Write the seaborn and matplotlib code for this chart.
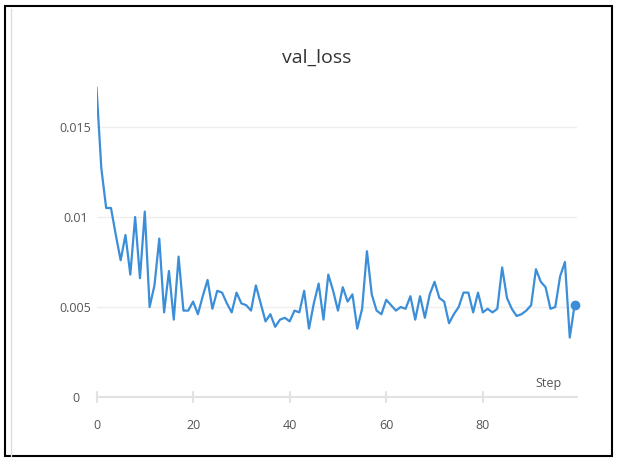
import pandas as pd
import matplotlib
matplotlib.use('Agg')
from matplotlib import pyplot as plt
from matplotlib.patches import Rectangle
import seaborn as sns

# values
val_loss = [
    0.0172, 0.0127, 0.0105, 0.0105, 0.0090, 0.0076, 0.0090, 0.0068, 0.0100, 0.0066,
    0.0103, 0.0050, 0.0062, 0.0088, 0.0047, 0.0070, 0.0043, 0.0078, 0.0048, 0.0048,
    0.0053, 0.0046, 0.0056, 0.0065, 0.0049, 0.0059, 0.0058, 0.0052, 0.0047, 0.0058,
    0.0052, 0.0051, 0.0048, 0.0062, 0.0052, 0.0042, 0.0046, 0.0039, 0.0043, 0.0044,
    0.0042, 0.0048, 0.0047, 0.0059, 0.0038, 0.0052, 0.0063, 0.0043, 0.0068, 0.0059,
    0.0048, 0.0061, 0.0053, 0.0057, 0.0038, 0.0049, 0.0081, 0.0057, 0.0048, 0.0046,
    0.0054, 0.0051, 0.0048, 0.0050, 0.0049, 0.0056, 0.0043, 0.0056, 0.0044, 0.0057,
    0.0064, 0.0055, 0.0053, 0.0041, 0.0046, 0.0050, 0.0058, 0.0058, 0.0047, 0.0058,
    0.0047, 0.0049, 0.0047, 0.0049, 0.0072, 0.0055, 0.0049, 0.0045, 0.0046, 0.0048,
    0.0051, 0.0071, 0.0064, 0.0061, 0.0049, 0.0050, 0.0067, 0.0075, 0.0033, 0.0051,
]
steps = list(range(len(val_loss)))
x_ticks = [0, 20, 40, 60, 80]
y_ticks = [0, 0.005, 0.01, 0.015]
y_labels = ['0', '0.005', '0.01', '0.015']

df = pd.DataFrame({'Step': steps, 'val_loss': val_loss})

sns.set_style('white')
plt.rcParams['font.family'] = ['Open Sans', 'DejaVu Sans']

W, H = 617, 459
fig = plt.figure(figsize=(W / 100, H / 100), dpi=100)
ax = fig.add_axes([96.5 / W, 1 - 397 / H, (577 - 96.5) / W, (397 - 82) / H])

blue = '#3b8ed8'
sns.lineplot(data=df, x='Step', y='val_loss', ax=ax, color=blue, linewidth=1.6)
ax.plot(steps[-1:], val_loss[-1:], 'o', color=blue, markersize=6, clip_on=False)

ax.set_xlim(0, 99.5)
ax.set_ylim(0, 0.0175)
for s in ax.spines.values():
    s.set_visible(False)

# horizontal grid
for y in y_ticks[1:]:
    ax.axhline(y, color='#eeeeee', lw=1, zorder=0)
ax.axhline(0, color='#e2e2e2', lw=1.5, zorder=0, clip_on=False)

ax.set_xticks(x_ticks)
ax.set_yticks(y_ticks)
ax.set_yticklabels(y_labels)
ax.tick_params(axis='x', length=0, pad=16, labelsize=9, labelcolor='#555555')
ax.tick_params(axis='y', length=0, pad=15, labelsize=9, labelcolor='#555555')
for lab in ax.get_yticklabels():
    lab.set_horizontalalignment('center')
# small crossing tick marks on the x axis
for t in x_ticks:
    ax.plot([t, t], [-0.0003, 0.0003], color='#e2e2e2', lw=1.5, clip_on=False)
ax.set_xlabel('')
ax.set_ylabel('')

fig.text(548 / W, 1 - 384 / H, 'Step', ha='center', va='center', fontsize=9, color='#555555')
fig.text(317 / W, 1 - 58 / H, 'val_loss', ha='center', va='center', fontsize=14, color='#333333')

# screenshot frame
fig.patches.append(Rectangle((5 / W, 3 / H), 607 / W, 450 / H, transform=fig.transFigure,
                             fill=False, edgecolor='black', lw=1.5))
fig.lines.append(plt.Line2D([11 / W, 11 / W], [3 / H, 1 - 9 / H], transform=fig.transFigure,
                            color='#dddddd', lw=1))

fig.savefig('out.png', dpi=100)
plt.close('all')
